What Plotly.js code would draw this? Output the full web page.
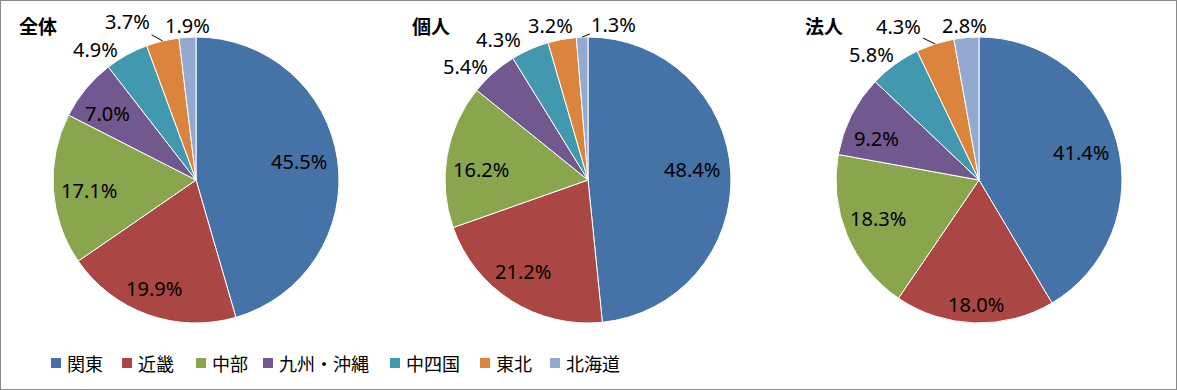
<!DOCTYPE html>
<html><head><meta charset="utf-8">
<script src="https://cdn.plot.ly/plotly-3.0.1.min.js"></script>
<style>body{margin:0;padding:0;background:#fff}#chart{width:1177px;height:390px}</style>
</head><body><div id="chart"></div>
<script>
// ---- data ----
const regions = ["関東","近畿","中部","九州・沖縄","中四国","東北","北海道"];
const groupNames = ["全体","個人","法人"];
const valuesAll = [45.5,19.9,17.1,7.0,4.9,3.7,1.9];
const valuesPersonal = [48.4,21.2,16.2,5.4,4.3,3.2,1.3];
const valuesCorporate = [41.4,18.0,18.3,9.2,5.8,4.3,2.8];
const series = [valuesAll, valuesPersonal, valuesCorporate];

// ---- style / layout ----
const colors = ["#4572A7","#AA4643","#89A54E","#71588F","#4198AF","#DB843D","#93A9CF"];
const W = 1177, H = 390;
const JP = '"Noto Sans CJK JP", sans-serif';
const NUM = '"Noto Sans", "Noto Sans CJK JP", sans-serif';
const pieCenterX = [196, 588, 979], pieCenterY = 180, pieR = 143;
const titleX = [17, 410, 803], titleY = 26;
const legendX = [51, 122, 196, 263, 390, 480, 550], legendY = 363;
// pixel nudges for data labels (Excel-like placement)
const labelNudge = [
  [[-3,-3],[-6,7],[0,3],[-6,2],[-17,8],[-28,-5],[2,3]],
  [[-3,-5],[-8,1],[-1,8],[-8,5],[-19,4],[-6,1],[33,2]],
  [[-1,1],[0,17],[-2,-3],[-7,7],[-6,2],[-27,-3],[1,3]]
];
const leaderIndex = [5, 6, 5];

const px = x => x / W, py = y => 1 - y / H;

const traces = series.map((vals, i) => ({
  type: 'pie',
  labels: regions,
  values: vals,
  sort: false,
  direction: 'clockwise',
  rotation: 0,
  marker: {colors: colors, line: {color: '#ffffff', width: 1}},
  textinfo: 'none',
  hoverinfo: 'label+value',
  domain: {x: [px(pieCenterX[i]-pieR), px(pieCenterX[i]+pieR)], y: [py(pieCenterY+pieR), py(pieCenterY-pieR)]},
  showlegend: false
}));

const annotations = [];
const shapes = [];
series.forEach((vals, i) => {
  const total = vals.reduce((a, b) => a + b, 0);
  let cum = 0;
  vals.forEach((v, j) => {
    const frac = v / total;
    const ang = (cum + frac / 2) * 2 * Math.PI;
    cum += frac;
    const dx = Math.sin(ang), dy = -Math.cos(ang);
    const cx = pieCenterX[i], cy = pieCenterY;
    const nx = labelNudge[i][j][0], ny = labelNudge[i][j][1];
    const txt = v.toFixed(1) + '%';
    let lx, ly;
    if (v >= 7) {
      lx = cx + dx * 0.75 * pieR + nx;
      ly = cy + dy * 0.75 * pieR + ny;
    } else {
      lx = cx + dx * (pieR + 7) + dx * 23 + nx;
      ly = cy + dy * (pieR + 7) + dy * 8 + ny;
    }
    if (j === leaderIndex[i]) {
      const ex = cx + dx * pieR, ey = cy + dy * pieR;
      annotations.push({
        text: txt, xref: 'paper', yref: 'paper', x: px(ex), y: py(ey),
        ax: lx - ex, ay: ly - ey, showarrow: true, arrowhead: 0, arrowwidth: 1,
        arrowcolor: '#000', standoff: 0, startstandoff: 0,
        font: {family: NUM, size: 20, color: '#000'}
      });
    } else {
      annotations.push({
        text: txt, xref: 'paper', yref: 'paper', x: px(lx), y: py(ly),
        xanchor: 'center', yanchor: 'middle', showarrow: false,
        font: {family: NUM, size: 20, color: '#000'}
      });
    }
  });
});

groupNames.forEach((g, i) => annotations.push({
  text: '<b>' + g + '</b>', xref: 'paper', yref: 'paper',
  x: px(titleX[i]), y: py(titleY), xanchor: 'left', yanchor: 'middle',
  showarrow: false, font: {family: JP, size: 19, color: '#000'}
}));

regions.forEach((r, i) => {
  shapes.push({type: 'rect', xref: 'paper', yref: 'paper',
    x0: px(legendX[i]), x1: px(legendX[i] + 10), y0: py(legendY + 5), y1: py(legendY - 5),
    fillcolor: colors[i], line: {width: 0}});
  annotations.push({text: r, xref: 'paper', yref: 'paper',
    x: px(legendX[i] + 14), y: py(legendY), xanchor: 'left', yanchor: 'middle',
    showarrow: false, font: {family: JP, size: 18, color: '#000'}});
});

shapes.push({type: 'rect', xref: 'paper', yref: 'paper', x0: 0, x1: 1, y0: 0, y1: 1,
  line: {color: '#898989', width: 2}});

const layout = {
  width: W, height: H,
  margin: {l: 0, r: 0, t: 0, b: 0},
  paper_bgcolor: '#fff',
  font: {family: JP, size: 16, color: '#000'},
  showlegend: false,
  annotations: annotations,
  shapes: shapes
};
Plotly.newPlot('chart', traces, layout, {displayModeBar: false, staticPlot: true});
</script></body></html>
